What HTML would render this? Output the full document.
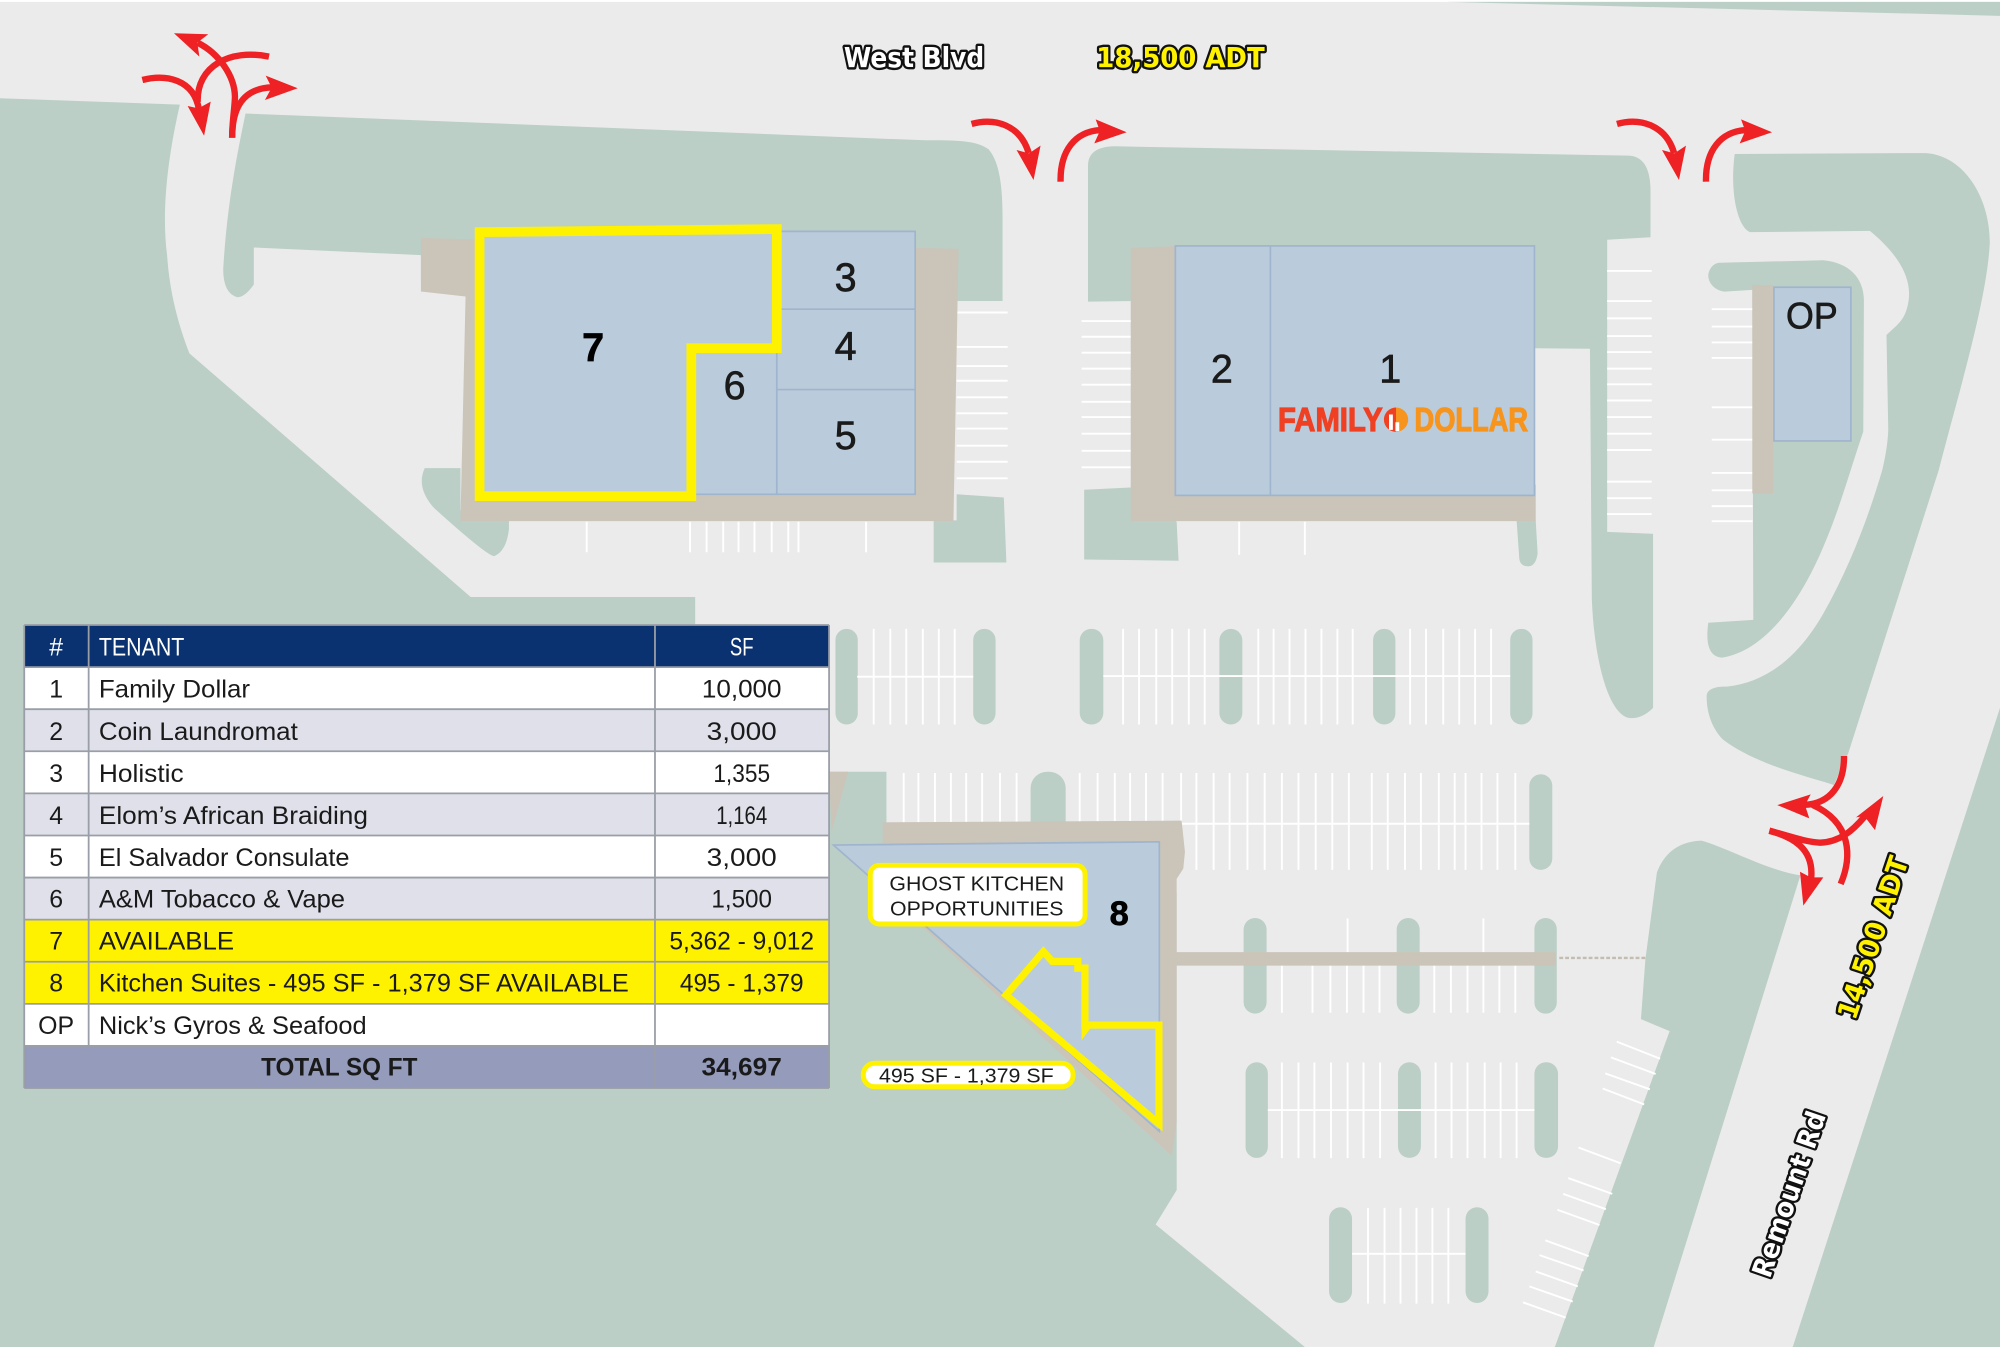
<!DOCTYPE html>
<html lang="en">
<head>
<meta charset="utf-8">
<title>Site Plan</title>
<style>
html,body{margin:0;padding:0;background:#fff;width:2000px;height:1349px;overflow:hidden}
svg{display:block}
text{font-family:"Liberation Sans",sans-serif}
.g{fill:#bbcfc6}
.t{fill:#cbc4b9}
.b{fill:#bacbdb;stroke:#9fb4cd;stroke-width:1.3}
.w{stroke:#fff;stroke-width:1.5;fill:none}
.n{font-size:31px;fill:#1a1a1a;text-anchor:middle;stroke:#1a1a1a;stroke-width:.5px}
.c{font-size:19.5px;fill:#1a1a1a}
.m{font-size:19.5px;fill:#1a1a1a;text-anchor:middle}
.r{stroke:#ee2124;stroke-width:5;fill:none}
.h{fill:#ee2124}
.lb{font-family:"DejaVu Sans",sans-serif;font-weight:bold;paint-order:stroke;stroke:#111;stroke-width:3.8px;stroke-linejoin:round}
</style>
</head>
<body>
<svg width="2000" height="1349" viewBox="0 0 1568 1057.6" preserveAspectRatio="none" xmlns="http://www.w3.org/2000/svg">
<rect x="0" y="1.5" width="1568" height="1054.5" fill="#ebebeb"/>

<!-- green areas -->
<path class="g" d="M1134,1.5 L1568,12.4 L1568,1.5Z"/>
<path class="g" d="M0,77 L141,82 C130,130 127,170 131,200 C133,230 140,255 148.5,277 L369,468 L545,468 L545,491 L650,491 L650,605 L695,605 L695,700 L922.5,700 L922.5,933 L906,960 L1023,1056 L0,1056Z"/>
<path class="g" d="M192.5,89 L725,110 C750,110 765,110 775,117 C782,125 786,140 786,170 L786,236 L750,236 L750,240 L380,240 L380,220 L330,220 L330,200 L199,194 L199,223 Q192,233 186,233 Q175,230 175,211 C178,160 186,120 192.5,89Z"/>
<path class="g" d="M333,367 L361,367 L361,400 L399,408 L399,415 Q397,432 387.5,436 Q382,436 340,398 Q326,382 333,367Z"/>
<path class="g" d="M732,408 L732,441 L789,441 L787,390 L750,387.5 L750,408Z"/>
<path class="g" d="M853,130 Q853,115 874,114.7 L1276,122 Q1294,122 1294,150 L1294,186 L1260,188 L1260,417 L1296,418.5 L1296,555 Q1288,563 1279,563 C1262,563 1250,520 1248,470 L1246.5,273.4 L1203,273 L1203,230 L890,230 L890,236 L853,236.5Z"/>
<path class="g" d="M850,384 L890,382 L922.5,409 L924,439.6 L850,438.6Z"/>
<path class="g" d="M1189,408 L1204,408 L1205.5,434 Q1204,444 1198,444 Q1191,444 1191,436Z"/>
<path class="g" d="M1360,120.7 L1510,120 C1540,122 1560,155 1560,190 C1558,235 1535,310 1520,368.5 L1449,590.6 L1437.8,615.4 C1410,607 1375,598 1351,580 C1343,572 1338,560 1338,546 C1338,540 1345,538 1354,538.3 C1385,535 1410,515 1429.5,481 C1450,445 1465,405 1475.7,368.5 Q1480,350 1480.4,337 L1479,262.6 C1487,255 1492,252 1495,242 C1500,225 1495,205 1466,181 L1372,182 C1362,178 1356,150 1360,120.7Z"/>
<path class="g" d="M1348.5,206 L1429.5,204 C1450,206 1461,218 1461.3,235 L1460.8,338.4 C1450,370 1442,400 1429.5,428.6 C1412,470 1385,510 1350,515.6 C1340,515 1337,505 1339.3,488.2 L1374.6,486 L1373.8,227.3 L1352,228.6 C1345,228 1339,222 1339.3,215.6 C1340,210 1344,206 1348.5,206Z"/>
<path class="g" d="M1568,555 L1568,1056 L1405.5,1056Z"/>
<path class="g" d="M1334,659 C1355,665 1385,682 1411.5,686.3 L1296.5,1056 L1219,1056 L1309,808.4 L1286.5,799 L1290,752 L1299,684 Q1308,660 1334,659Z"/>

<!-- parking islands -->
<g class="g">
<rect x="655" y="493" width="17.5" height="75" rx="8.7"/>
<rect x="763" y="493" width="17.5" height="75" rx="8.7"/>
<rect x="846.5" y="493" width="18.5" height="75" rx="9"/>
<rect x="956" y="493" width="18" height="75" rx="9"/>
<rect x="1076.5" y="493" width="17.5" height="75" rx="8.7"/>
<rect x="1184" y="493" width="17.5" height="75" rx="8.7"/>
<rect x="808" y="605" width="27.5" height="60" rx="13"/>
<rect x="1199" y="607" width="18" height="75" rx="9"/>
<rect x="975" y="719.7" width="18" height="75" rx="9"/>
<rect x="1095" y="719.7" width="18" height="75" rx="9"/>
<rect x="1203" y="719.7" width="17.5" height="75" rx="8.7"/>
<rect x="976.5" y="832.8" width="17.5" height="75" rx="8.7"/>
<rect x="1096" y="832.8" width="18" height="75" rx="9"/>
<rect x="1203" y="832.8" width="18.5" height="75" rx="9"/>
<rect x="1042" y="946.5" width="18" height="75" rx="9"/>
<rect x="1149" y="946.5" width="18" height="75" rx="9"/>
</g>

<!-- parking lines -->
<path class="w" d="M672,530.5H763M685,493v75M698,493v75M710.5,493v75M723.5,493v75M736,493v75M748.5,493v75"/>
<path class="w" d="M865,530H1184M880.5,493v75M893,493v75M906.5,493v75M919,493v75M932,493v75M944.5,493v75M986.5,493v75M998.5,493v75M1011,493v75M1023.5,493v75M1036,493v75M1048.5,493v75M1060.5,493v75M1105.5,493v75M1118,493v75M1131.5,493v75M1144,493v75M1156.5,493v75M1169,493v75"/>
<path class="w" d="M926,645.8H1199M926,606v76M938,606v76M951.5,606v76M964,606v76M978,606v76M991.5,606v76M1005,606v76M1018,606v76M1031.5,606v76M1044.5,606v76M1057.5,606v76M1075.5,606v76M1088,606v76M1101.5,606v76M1114,606v76M1128,606v76M1140.5,606v76M1149,606v76M1161.5,606v76M1174,606v76M1188,606v76"/>
<path class="w" d="M708.5,606v39M720,606v39M733,606v39M745.5,606v39M757.5,606v39M770,606v39M784,606v39M797,606v39M846.5,606v39M860.5,606v39M874,606v39M886,606v39M898.5,606v39M911.5,606v39"/>
<path class="w" d="M1005,757v37M1029,757v37M1043,757v37M1056,757v37M1069,757v37M1081.5,757v37M1124.5,757v37M1137.5,757v37M1150.5,757v37M1163,757v37M1175.5,757v37M1188,757v37M1056.5,720v27M1163,720v27"/>
<path class="w" d="M994,870.3H1203M1005,833v75M1018,833v75M1030.5,833v75M1043.5,833v75M1056.5,833v75M1069,833v75M1082,833v75M1125.5,833v75M1138,833v75M1150.5,833v75M1164,833v75M1176.5,833v75M1189,833v75"/>
<path class="w" d="M1060,983H1149M1072.5,947v75M1085.5,947v75M1098,947v75M1110.5,947v75M1123,947v75M1135.5,947v75"/>
<path class="w" d="M750,245H790M750,272H790M750,287H790M750,298.5H790M750,311.5H790M750,324H790M750,336H790M750,349.4H790M750,362H790M750,375H790"/>
<path class="w" d="M848,251.7H887M848,264H887M848,276.5H887M848,289H887M848,301.6H887M848,315H887M848,327H887M848,340H887M848,353.4H887M848,366.4H887"/>
<path class="w" d="M1260,212.4H1295M1260,236H1295M1260,249.6H1295M1260,263.5H1295M1260,276H1295M1260,289H1295M1260,301.3H1295M1260,314H1295M1260,327H1295M1260,340H1295M1260,352.8H1295M1260,377.6H1295M1260,390.6H1295M1260,403H1295"/>
<path class="w" d="M1342,242.4H1374M1342,256H1374M1342,268.5H1374M1342,280.6H1374M1342,319.3H1374M1342,344.7H1374M1342,370.8H1374M1342,384.4H1374M1342,396.8H1374M1342,408.6H1374"/>
<path class="w" d="M460,409v24M541,409v24M554,409v24M567,409v24M579,409v24M591.5,409v24M605,409v24M618,409v24M626,409v24M679,409v24M971.5,409v26M1023,409v26"/>
<path class="w" d="M1267.5,816.6L1301.5,830M1263,829L1298,842M1258.5,841.5L1293.5,854M1256.5,853.4L1289,865.8M1237.5,899.6L1270.5,912M1229.5,923.6L1264,936M1225.5,936L1259,948M1221,948.4L1254,960.4M1211.5,972.4L1245.5,984.8M1207,984L1241.5,996M1204,996.8L1237,1008.5M1199,1008.5L1233,1020.4M1194,1021L1227.5,1033"/>

<!-- west building -->
<path class="t" d="M330,186.6 L385,188 L751.5,195 L747.5,408.6 L361,408.6 L365,232.5 L330,228.5Z"/>
<path class="b" d="M376,182 L612.5,181.4 H717.5 V387.5 H376Z"/>
<path d="M609,242.4H717.5M609,305.4H717.5M609,276V387.5" stroke="#9fb4cd" stroke-width="1.3" fill="none"/>
<path d="M376,182 L609,179.6 L609,273 L542,273 L542,389 L376,389Z" fill="#bacbdb" stroke="#fff200" stroke-width="7.6"/>

<!-- east building -->
<path class="t" d="M886.5,194.4 L925,192.8 L1204,380 L1204,408.6 L886.5,408.6Z"/>
<rect class="b" x="921.5" y="192.8" width="281.5" height="195.6"/>
<path d="M996,192.8V388.4" stroke="#9fb4cd" stroke-width="1.3"/>

<!-- OP -->
<rect class="t" x="1373.8" y="223.4" width="16.5" height="163.4"/>
<rect class="b" x="1390.8" y="225.2" width="60.3" height="120.5"/>

<!-- building 8 -->
<path class="t" d="M650,605 L665,605 L652,652 Z"/>
<path class="t" d="M692,644.7 L926.4,643.4 L929,668 L927.7,681 L922.5,689 L922.5,880 L918.6,906 L653.4,662.5 L692,662.5Z"/>
<path class="t" d="M922,746.5 H1219.5 V757 H922Z"/>
<path d="M1222.5,751H1290" stroke="#c2bcb1" stroke-width="1.8" stroke-dasharray="3 1.6" fill="none"/>
<path class="b" d="M653.4,662.5 L908.9,660 L908.9,887Z"/>
<path d="M788.7,780 L818,746 L825,753.7 L845,753.7 L845,759 L850.6,759 L850.6,803.6 L908.6,803.6 L908.6,881Z" fill="#bacbdb" stroke="#fff200" stroke-width="5.6"/>
<path d="M848,806 L848,815.4 L855,806Z" fill="#fff200"/>

<!-- unit numbers -->
<text class="n" x="663" y="228">3</text>
<text class="n" x="663" y="282">4</text>
<text class="n" x="663" y="352">5</text>
<text class="n" x="576" y="313">6</text>
<text class="n" x="465" y="283" font-weight="bold" style="fill:#000;stroke:#000">7</text>
<text class="n" x="958" y="300">2</text>
<text class="n" x="1090" y="300">1</text>
<text class="n" x="1420.5" y="257.5" style="font-size:29px" textLength="40.5" lengthAdjust="spacingAndGlyphs">OP</text>
<text class="n" x="877.5" y="725" font-weight="bold" style="fill:#000;stroke:#000;font-size:27px">8</text>

<!-- Family Dollar logo -->
<text x="1002" y="338" font-size="26" font-weight="bold" fill="#ef4023" stroke="#ef4023" stroke-width=".9" textLength="82" lengthAdjust="spacingAndGlyphs">FAMILY</text>
<circle cx="1094.5" cy="329" r="9.5" fill="#f7941d"/>
<path d="M1094.5,319.5 A9.5,9.5 0 0 0 1094.5,338.5Z" fill="#ef4023"/>
<path d="M1089,325h3v12h-3ZM1094,331h3v7h-3Z" fill="#fff"/>
<text x="1109" y="338" font-size="26" font-weight="bold" fill="#f7941d" stroke="#f7941d" stroke-width=".9" textLength="89" lengthAdjust="spacingAndGlyphs">DOLLAR</text>

<!-- callouts -->
<rect x="682.3" y="678.4" width="168.4" height="46" rx="7" fill="#fff" stroke="#fff200" stroke-width="3.9"/>
<text x="765.8" y="698.3" font-size="16" fill="#1a1a1a" text-anchor="middle" textLength="137" lengthAdjust="spacingAndGlyphs">GHOST KITCHEN</text>
<text x="765.8" y="717.6" font-size="16" fill="#1a1a1a" text-anchor="middle" textLength="136" lengthAdjust="spacingAndGlyphs">OPPORTUNITIES</text>
<rect x="676.8" y="833.6" width="164.5" height="18.4" rx="9" fill="#fff" stroke="#fff200" stroke-width="3.9"/>
<text x="757.6" y="848.6" font-size="16" fill="#1a1a1a" text-anchor="middle" textLength="137" lengthAdjust="spacingAndGlyphs">495 SF - 1,379 SF</text>

<!-- road labels -->
<text class="lb" x="716.6" y="52.5" font-size="21.5" fill="#fff" text-anchor="middle" textLength="110" lengthAdjust="spacingAndGlyphs">West Blvd</text>
<text class="lb" x="925.5" y="52.5" font-size="21.5" fill="#fff200" text-anchor="middle" textLength="132" lengthAdjust="spacingAndGlyphs">18,500 ADT</text>
<text class="lb" transform="translate(1467.9,735) rotate(-71.5)" y="8" font-size="21.5" fill="#fff200" text-anchor="middle" textLength="133" lengthAdjust="spacingAndGlyphs">14,500 ADT</text>
<text class="lb" transform="translate(1402,936) rotate(-71)" y="8" font-size="21.5" fill="#fff" text-anchor="middle" textLength="136" lengthAdjust="spacingAndGlyphs">Remount Rd</text>

<!-- red arrows NW -->
<path class="r" d="M111.6,62.7 C130,58 152,62 156,86"/>
<path class="r" d="M210.9,44.4 C180,38 154,52 155,80"/>
<path class="h" d="M160,106.4 L147.1,83.1 L155.5,85 L165.2,79.7Z"/>
<path class="r" d="M182,108 C182,85 190,69 214,68.5"/>
<path class="h" d="M233.4,69.2 L208.3,59.3 L213,68.7 L207.7,78.4Z"/>
<path class="r" d="M182,108 C182,95 184,85 184.2,75.8 C184,60 172,42 155,33.5"/>
<path class="h" d="M136.4,26.1 L163.3,26.9 L154.7,33.4 L156.3,44.4Z"/>

<!-- red arrows N -->
<path class="r" d="M761.7,97.2 C780,92 800,98 806.5,120"/>
<path class="h" d="M810.3,141.1 L797,117.6 L806.7,120.2 L815.8,114.2Z"/>
<path class="r" d="M831.5,142.4 C831,118 843,103 863,102"/>
<path class="h" d="M883.3,103.7 L859,93.6 L862.3,102.7 L857.9,112.4Z"/>
<g transform="translate(506 0)">
<path class="r" d="M761.7,97.2 C780,92 800,98 806.5,120"/>
<path class="h" d="M810.3,141.1 L797,117.6 L806.7,120.2 L815.8,114.2Z"/>
<path class="r" d="M831.5,142.4 C831,118 843,103 863,102"/>
<path class="h" d="M883.3,103.7 L859,93.6 L862.3,102.7 L857.9,112.4Z"/>
</g>

<!-- red arrows SE -->
<path class="r" d="M1445.7,592.7 C1446,615 1435,630 1415,631"/>
<path class="h" d="M1393.4,631.2 L1419.6,622.8 L1415.1,631.2 L1418.5,641.6Z"/>
<path class="r" d="M1443.1,693 C1452,672 1452,645 1421,631"/>
<path class="r" d="M1387.2,651.3 C1405,656 1415,660 1427,660.7 C1442,660 1452,652 1462,640"/>
<path class="h" d="M1476.5,624.1 L1455.1,640.8 L1461.6,639.8 L1470,650.8Z"/>
<path class="r" d="M1387.2,651.3 C1405,656 1422,665 1420,688"/>
<path class="h" d="M1413.8,710 L1411.2,683.4 L1419.6,687.9 L1429.5,687.9Z"/>

<!-- table -->
<g>
<rect x="19" y="490" width="631" height="33" fill="#0b3270"/>
<rect x="19" y="523" width="631" height="33" fill="#fff"/>
<rect x="19" y="556" width="631" height="33" fill="#dfe0ea"/>
<rect x="19" y="589" width="631" height="33" fill="#fff"/>
<rect x="19" y="622" width="631" height="33" fill="#dfe0ea"/>
<rect x="19" y="655" width="631" height="33" fill="#fff"/>
<rect x="19" y="688" width="631" height="33" fill="#dfe0ea"/>
<rect x="19" y="721" width="631" height="33" fill="#fff200"/>
<rect x="19" y="754" width="631" height="33" fill="#fff200"/>
<rect x="19" y="787" width="631" height="33" fill="#fff"/>
<rect x="19" y="820" width="631" height="33" fill="#949bbb"/>
<path d="M19,490H650M19,523H650M19,556H650M19,589H650M19,622H650M19,655H650M19,688H650M19,721H650M19,754H650M19,787H650M19,820H650M19,853H650M19,490V853M69.5,490V820M513.5,490V853M650,490V853" stroke="#9a9ea6" stroke-width="1.4" fill="none"/>

<text class="m" x="44" y="514" style="fill:#fff">#</text>
<text class="c" x="77.5" y="514" style="fill:#fff" textLength="67" lengthAdjust="spacingAndGlyphs">TENANT</text>
<text class="m" x="581.5" y="514" style="fill:#fff" textLength="18.5" lengthAdjust="spacingAndGlyphs">SF</text>

<text class="m" x="44" y="547">1</text>
<text class="m" x="44" y="580">2</text>
<text class="m" x="44" y="613">3</text>
<text class="m" x="44" y="646">4</text>
<text class="m" x="44" y="679">5</text>
<text class="m" x="44" y="711.5">6</text>
<text class="m" x="44" y="744.5">7</text>
<text class="m" x="44" y="777.5">8</text>
<text class="m" x="44" y="810.5">OP</text>

<text class="c" x="77.5" y="547" textLength="118.5" lengthAdjust="spacingAndGlyphs">Family Dollar</text>
<text class="c" x="77.5" y="580" textLength="156" lengthAdjust="spacingAndGlyphs">Coin Laundromat</text>
<text class="c" x="77.5" y="613" textLength="66.5" lengthAdjust="spacingAndGlyphs">Holistic</text>
<text class="c" x="77.5" y="646" textLength="211" lengthAdjust="spacingAndGlyphs">Elom’s African Braiding</text>
<text class="c" x="77.5" y="679" textLength="196.5" lengthAdjust="spacingAndGlyphs">El Salvador Consulate</text>
<text class="c" x="77.5" y="711.5" textLength="193" lengthAdjust="spacingAndGlyphs">A&amp;M Tobacco &amp; Vape</text>
<text class="c" x="77.5" y="744.5" textLength="106" lengthAdjust="spacingAndGlyphs">AVAILABLE</text>
<text class="c" x="77.5" y="777.5" textLength="415.5" lengthAdjust="spacingAndGlyphs">Kitchen Suites - 495 SF - 1,379 SF AVAILABLE</text>
<text class="c" x="77.5" y="810.5" textLength="210" lengthAdjust="spacingAndGlyphs">Nick’s Gyros &amp; Seafood</text>
<text class="m" x="266" y="843" font-weight="bold" textLength="122.5" lengthAdjust="spacingAndGlyphs">TOTAL SQ FT</text>

<text class="m" x="581.5" y="547" textLength="62.5" lengthAdjust="spacingAndGlyphs">10,000</text>
<text class="m" x="581.5" y="580" textLength="55" lengthAdjust="spacingAndGlyphs">3,000</text>
<text class="m" x="581.5" y="613" textLength="44.5" lengthAdjust="spacingAndGlyphs">1,355</text>
<text class="m" x="581.5" y="646" textLength="40" lengthAdjust="spacingAndGlyphs">1,164</text>
<text class="m" x="581.5" y="679" textLength="55" lengthAdjust="spacingAndGlyphs">3,000</text>
<text class="m" x="581.5" y="711.5" textLength="47.5" lengthAdjust="spacingAndGlyphs">1,500</text>
<text class="m" x="581.5" y="744.5" textLength="113.5" lengthAdjust="spacingAndGlyphs">5,362 - 9,012</text>
<text class="m" x="581.5" y="777.5" textLength="97" lengthAdjust="spacingAndGlyphs">495 - 1,379</text>
<text class="m" x="581.5" y="843" font-weight="bold" textLength="63" lengthAdjust="spacingAndGlyphs">34,697</text>
</g>
</svg>
</body>
</html>
